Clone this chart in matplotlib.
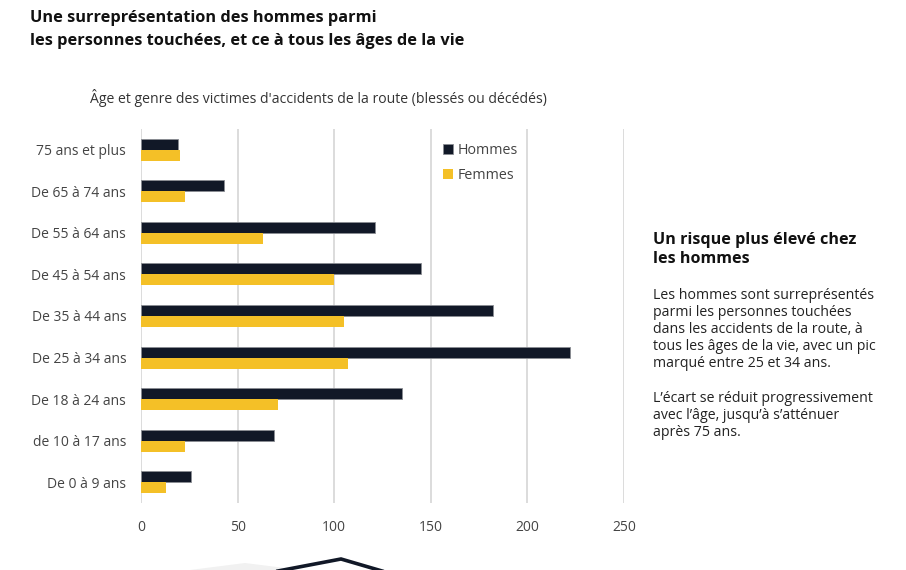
import matplotlib
matplotlib.use("Agg")
import matplotlib.pyplot as plt
import numpy as np
from matplotlib.lines import Line2D
from matplotlib.patches import Polygon, Patch

plt.rcParams['font.family'] = ['Open Sans', 'DejaVu Sans']

categories = ["75 ans et plus", "De 65 à 74 ans", "De 55 à 64 ans", "De 45 à 54 ans",
              "De 35 à 44 ans", "De 25 à 34 ans", "De 18 à 24 ans", "de 10 à 17 ans",
              "De 0 à 9 ans"]
hommes = [19, 43, 121, 145, 182, 222, 135, 69, 26]
femmes = [20, 23, 63, 100, 105, 107, 71, 23, 13]
xticks = [0, 50, 100, 150, 200, 250]

C_H = "#111827"
C_F = "#F4C027"
TXT = "#333333"

W, H = 906, 570
fig = plt.figure(figsize=(W / 100, H / 100), dpi=100)
ax = fig.add_axes([141 / W, 67 / H, 483 / W, 374 / H])

y = np.arange(len(categories))
bh = 0.265
ax.barh(y - bh / 2, hommes, height=bh, color=C_H, edgecolor="#8a8d93", linewidth=0.6, zorder=3, label="Hommes")
ax.barh(y + bh / 2, femmes, height=bh, color=C_F, linewidth=0, zorder=3, label="Femmes")

ax.set_ylim(len(categories) - 0.5, -0.5)
ax.set_xlim(0, 250)
ax.set_xticks(xticks)
ax.set_xticklabels([str(t) for t in xticks])
ax.set_yticks(y)
ax.set_yticklabels(categories)
ax.tick_params(axis="both", length=0, labelsize=10, colors="#444444")
ax.tick_params(axis="y", pad=10.7)
ax.tick_params(axis="x", pad=12)
for s in ax.spines.values():
    s.set_visible(False)
ax.grid(axis="x", color="#d9d9d9", linewidth=1.3, zorder=0)
ax.set_axisbelow(True)

handles = [Patch(facecolor=C_H, edgecolor="#8a8d93", linewidth=0.6), Patch(facecolor=C_F)]
leg = ax.legend(handles, ["Hommes", "Femmes"], loc="upper left",
                bbox_to_anchor=((443 - 141) / 483, (503 - 143) / 374),
                frameon=False, handlelength=0.72, handleheight=0.72, handletextpad=0.3,
                labelspacing=0.7, fontsize=10.3, borderaxespad=0, borderpad=0)
for t in leg.get_texts():
    t.set_color("#444444")

# Titles
fig.text(30 / W, 1 - 10.5 / H, "Une surreprésentation des hommes parmi\nles personnes touchées, et ce à tous les âges de la vie",
         fontsize=11.8, fontweight="bold", color="#111111", va="top", ha="left", linespacing=1.58)
fig.text(90 / W, 1 - 98 / H, "Âge et genre des victimes d'accidents de la route (blessés ou décédés)",
         fontsize=10.1, color=TXT, va="center", ha="left")

# Right annotation
fig.text(653 / W, 1 - 231.5 / H, "Un risque plus élevé chez\nles hommes",
         fontsize=11.6, fontweight="bold", color="#111111", va="top", ha="left", linespacing=1.28)
body = ("Les hommes sont surreprésentés\nparmi les personnes touchées\ndans les accidents de la route, à\n"
        "tous les âges de la vie, avec un pic\nmarqué entre 25 et 34 ans.\n\n"
        "L’écart se réduit progressivement\navec l’âge, jusqu’à s’atténuer\naprès 75 ans.")
fig.text(653 / W, 1 - 288 / H, body, fontsize=10.15, color="#222222", va="top", ha="left", linespacing=1.19)

# Bottom decoration
def px(xs, ys):
    return [x / W for x in xs], [1 - yy / H for yy in ys]

gx, gy = px([190, 245, 285, 285, 190], [570, 563, 568, 570, 570])
fig.add_artist(Polygon(np.column_stack([gx, gy]), closed=True, transform=fig.transFigure,
                       facecolor="#f1f1f1", edgecolor="none"))
lx, ly = px([278, 341, 382], [571, 559, 571])
fig.add_artist(Line2D(lx, ly, transform=fig.transFigure, color="#111827", linewidth=2.6,
                      solid_joinstyle="miter"))

fig.savefig("out.png", dpi=100)
